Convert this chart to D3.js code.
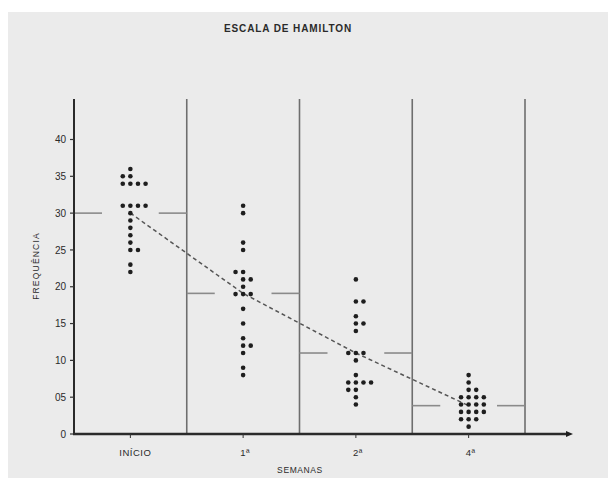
<!DOCTYPE html>
<html><head><meta charset="utf-8">
<script src="https://cdn.jsdelivr.net/npm/d3@7"></script>
<style>body{margin:0;background:#fff}svg{display:block}text{font-family:"Liberation Sans",Arial,sans-serif;fill:#2a2a2a}</style>
</head><body>
<script>
const categories = ["INÍCIO", "1ª", "2ª", "4ª"];
const inicioValues = [36,35,35,34,34,34,34,31,31,31,31,30,29,28,27,26,25,25,23,22];
const semana1Values = [31,30,26,25,22,22,21,21,20,19,19,19,17,15,13,12,12,11,9,8];
const semana2Values = [21,18,18,16,15,15,14,11,11,11,10,8,7,7,7,7,6,6,5,4];
const semana4Values = [8,7,6,6,5,5,5,5,4,4,4,4,3,3,3,3,2,2,2,1];
const means = [30, 19.1, 11, 3.85];
const yTicks = [0,5,10,15,20,25,30,35,40];
const yTickLabels = ["0","05","10","15","20","25","30","35","40"];
const groups = [inicioValues, semana1Values, semana2Values, semana4Values];

const W = 608, H = 478;
const svg = d3.select("body").append("svg").attr("width", W).attr("height", H);
svg.append("rect").attr("x", 8).attr("y", 12).attr("width", W - 8).attr("height", H - 12).attr("fill", "#ebebeb");

const x = d3.scaleBand().domain(categories).range([74, 525]).paddingInner(0).paddingOuter(0);
const y = d3.scaleLinear().domain([0, 40]).range([434, 139.5]);
const yTop = y.invert(99);

// separators
categories.forEach(c => {
  svg.append("line").attr("x1", x(c) + x.bandwidth()).attr("x2", x(c) + x.bandwidth())
    .attr("y1", y(yTop)).attr("y2", y(0)).attr("stroke", "#6e6e6e").attr("stroke-width", 1.6);
});

// mean segments
const segLen = 28;
categories.forEach((c, i) => {
  const yy = y(means[i]);
  const x0 = x(c), x1 = x(c) + x.bandwidth();
  svg.append("line").attr("x1", x0).attr("x2", x0 + segLen).attr("y1", yy).attr("y2", yy)
    .attr("stroke", "#8a8a8a").attr("stroke-width", 1.6);
  svg.append("line").attr("x1", x1 - segLen).attr("x2", x1).attr("y1", yy).attr("y2", yy)
    .attr("stroke", "#8a8a8a").attr("stroke-width", 1.6);
});

// dashed trend through means
const line = d3.line().x((d, i) => x(categories[i]) + x.bandwidth() / 2).y(d => y(d));
svg.append("path").attr("d", line(means)).attr("fill", "none")
  .attr("stroke", "#555").attr("stroke-width", 1.5).attr("stroke-dasharray", "4,3");

// dots (dot-plot stacking sideways at each value)
const colStep = 7.6;
groups.forEach((vals, gi) => {
  const cx = x(categories[gi]) + x.bandwidth() / 2;
  const counts = d3.rollup(vals, v => v.length, d => d);
  counts.forEach((k, v) => {
    let offs;
    if (k === 1) offs = [0];
    else if (k === 2) {
      const up = counts.get(v + 1) || 0, dn = counts.get(v - 1) || 0;
      offs = (dn === 4 && up === 1 && gi === 0) || (up === 4) || (up === 0 && dn === 2) ? [-1, 0] : [0, 1];
    } else if (k === 3) offs = [-1, 0, 1];
    else offs = [-1, 0, 1, 2];
    offs.forEach(o => {
      svg.append("circle").attr("cx", cx + o * colStep).attr("cy", y(v)).attr("r", 2.3).attr("fill", "#1e1e1e");
    });
  });
});

// y axis
svg.append("line").attr("x1", 74).attr("x2", 74).attr("y1", y(yTop)).attr("y2", y(0))
  .attr("stroke", "#2a2a2a").attr("stroke-width", 2);
yTicks.forEach((t, i) => {
  svg.append("line").attr("x1", 70).attr("x2", 74).attr("y1", y(t)).attr("y2", y(t)).attr("stroke", "#333").attr("stroke-width", 1.2);
  svg.append("text").attr("x", 66).attr("y", y(t)).attr("dy", "0.36em").attr("text-anchor", "end")
    .attr("font-size", 10).text(yTickLabels[i]);
});

// x axis
svg.append("line").attr("x1", 73).attr("x2", 567).attr("y1", y(0)).attr("y2", y(0))
  .attr("stroke", "#2a2a2a").attr("stroke-width", 2.4);
svg.append("path").attr("d", `M566,${y(0) - 3}L573,${y(0)}L566,${y(0) + 3}Z`).attr("fill", "#1e1e1e");
categories.forEach((c, i) => {
  const cx = x(c) + x.bandwidth() / 2;
  svg.append("line").attr("x1", cx).attr("x2", cx).attr("y1", y(0)).attr("y2", y(0) + 4).attr("stroke", "#333");
  svg.append("text").attr("x", cx + (i === 0 ? 5 : 2)).attr("y", 456).attr("text-anchor", "middle")
    .attr("font-size", 9.5).attr("letter-spacing", 0.5).text(c);
});

svg.append("text").attr("x", 300).attr("y", 473).attr("text-anchor", "middle").attr("font-size", 8.5)
  .attr("letter-spacing", 0.6).text("SEMANAS");
svg.append("text").attr("transform", "translate(39,266) rotate(-90)").attr("text-anchor", "middle")
  .attr("font-size", 8.5).attr("letter-spacing", 1.2).text("FREQUÊNCIA");
svg.append("text").attr("x", 288).attr("y", 32).attr("text-anchor", "middle").attr("font-size", 10)
  .attr("font-weight", "bold").attr("letter-spacing", 0.9).text("ESCALA DE HAMILTON");
</script>
</body></html>
